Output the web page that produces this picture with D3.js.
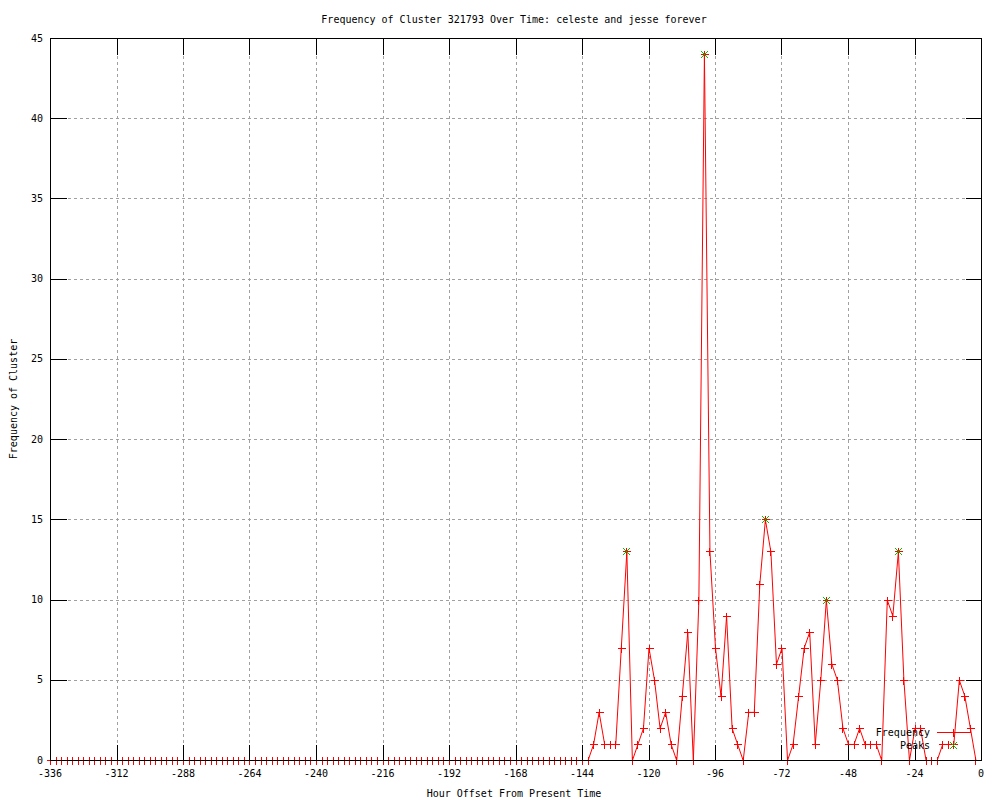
<!DOCTYPE html>
<html><head><meta charset="utf-8">
<script src="https://cdn.jsdelivr.net/npm/d3@7/dist/d3.min.js"></script>
<style>
body{margin:0;background:#fff}
text{font-family:"DejaVu Sans Mono",monospace;font-size:10px;fill:#000}
</style>
</head><body>
<svg id="c" width="1000" height="800"></svg>
<script>
const title = "Frequency of Cluster 321793 Over Time: celeste and jesse forever";
const xLabel = "Hour Offset From Present Time";
const yLabel = "Frequency of Cluster";
const xTicks = [-336,-312,-288,-264,-240,-216,-192,-168,-144,-120,-96,-72,-48,-24,0];
const yTicks = [0,5,10,15,20,25,30,35,40,45];
const hours = d3.range(-336, 0, 2);
const frequency = [
  0,0,0,0,0,0,0,0,0,0,0,0,0,0,
  0,0,0,0,0,0,0,0,0,0,0,0,0,0,
  0,0,0,0,0,0,0,0,0,0,0,0,0,0,
  0,0,0,0,0,0,0,0,0,0,0,0,0,0,
  0,0,0,0,0,0,0,0,0,0,0,0,0,0,
  0,0,0,0,0,0,0,0,0,0,0,0,0,0,
  0,0,0,0,0,0,0,0,0,0,0,0,0,0,
  1,3,1,1,1,7,13,0,1,2,
  7,5,2,3,1,0,4,8,0,10,
  44,13,7,4,9,2,1,0,3,3,
  11,15,13,6,7,0,1,4,7,8,
  1,5,10,6,5,2,1,1,2,1,
  1,1,0,10,9,13,5,0,2,2,
  0,0,0,1,1,1,5,4,2,0
];
const peakHours = [-128,-100,-78,-56,-30];
const peakValues = [13,44,15,10,13];
const seriesNames = ["Frequency","Peaks"];

const svg = d3.select("#c");
const L = 50, R = 981, T = 38, B = 760;
const x = d3.scaleLinear().domain([-336, 0]).range([L, R]);
const y = d3.scaleLinear().domain([0, 45]).range([B, T]);
const px = v => Math.round(x(v)) + 0.5;
const py = v => Math.round(y(v)) + 0.5;

// grid
const grid = svg.append("g").attr("stroke", "#a0a0a0").attr("stroke-width", 1)
  .attr("stroke-dasharray", "3,3").attr("shape-rendering", "crispEdges");
xTicks.slice(1, -1).forEach(t => grid.append("line")
  .attr("x1", px(t)).attr("x2", px(t)).attr("y1", T).attr("y2", B));
yTicks.slice(1, -1).forEach(t => grid.append("line")
  .attr("x1", L).attr("x2", R).attr("y1", py(t)).attr("y2", py(t)));

// data line
const data = hours.map((h, i) => [h, frequency[i]]);
svg.append("path").datum(data)
  .attr("fill", "none").attr("stroke", "#ff0000").attr("stroke-width", 1)
  .attr("d", d3.line().x(d => x(d[0]) + 0.5).y(d => y(d[1]) + 0.5));

// plus markers
const plus = (cx, cy, s) => `M${cx - s},${cy}h${2 * s}M${cx},${cy - s}v${2 * s}`;
const crossX = (cx, cy, s) => `M${cx - s},${cy - s}l${2 * s},${2 * s}M${cx - s},${cy + s}l${2 * s},${-2 * s}`;
svg.append("path")
  .attr("fill", "none").attr("stroke", "#ff0000").attr("stroke-width", 1)
  .attr("shape-rendering", "crispEdges")
  .attr("d", data.map(d => plus(px(d[0]), py(d[1]), 4)).join(""));

// peaks
svg.append("path")
  .attr("fill", "none").attr("stroke", "#00c000").attr("stroke-width", 1)
  .attr("d", peakHours.map((h, i) => crossX(px(h), py(peakValues[i]), 3.5)).join(""));

// border + ticks
const ax = svg.append("g").attr("stroke", "#000").attr("stroke-width", 1).attr("shape-rendering", "crispEdges");
ax.append("rect").attr("x", px(-336)).attr("y", py(45)).attr("width", px(0) - px(-336))
  .attr("height", py(0) - py(45)).attr("fill", "none");
const tl = 16;
xTicks.slice(1, -1).forEach(t => {
  ax.append("line").attr("x1", px(t)).attr("x2", px(t)).attr("y1", py(0)).attr("y2", py(0) - tl);
  ax.append("line").attr("x1", px(t)).attr("x2", px(t)).attr("y1", py(45)).attr("y2", py(45) + tl);
});
yTicks.slice(1, -1).forEach(t => {
  ax.append("line").attr("x1", px(-336)).attr("x2", px(-336) + tl).attr("y1", py(t)).attr("y2", py(t));
  ax.append("line").attr("x1", px(0)).attr("x2", px(0) - tl).attr("y1", py(t)).attr("y2", py(t));
});

// tick labels
svg.append("g").selectAll("text").data(xTicks).join("text")
  .attr("x", d => x(d)).attr("y", 777).attr("text-anchor", "middle").text(d => d);
svg.append("g").selectAll("text").data(yTicks).join("text")
  .attr("x", 43).attr("y", d => y(d) + 3.5).attr("text-anchor", "end").text(d => d);

// titles
svg.append("text").attr("x", 514).attr("y", 23).attr("text-anchor", "middle").text(title);
svg.append("text").attr("x", 514).attr("y", 797).attr("text-anchor", "middle").text(xLabel);
svg.append("text").attr("transform", "translate(17,399) rotate(-90)").attr("text-anchor", "middle").text(yLabel);

// legend
const lg = svg.append("g");
lg.append("text").attr("x", 930).attr("y", 736).attr("text-anchor", "end").text(seriesNames[0]);
lg.append("text").attr("x", 930).attr("y", 749).attr("text-anchor", "end").text(seriesNames[1]);
lg.append("line").attr("x1", 937).attr("x2", 970).attr("y1", 732.5).attr("y2", 732.5)
  .attr("stroke", "#ff0000").attr("shape-rendering", "crispEdges");
lg.append("path").attr("fill", "none").attr("stroke", "#ff0000").attr("shape-rendering", "crispEdges")
  .attr("d", plus(953.5, 732.5, 4));
lg.append("path").attr("fill", "none").attr("stroke", "#00c000")
  .attr("d", crossX(953.5, 745.5, 3.5));
</script>
</body></html>
